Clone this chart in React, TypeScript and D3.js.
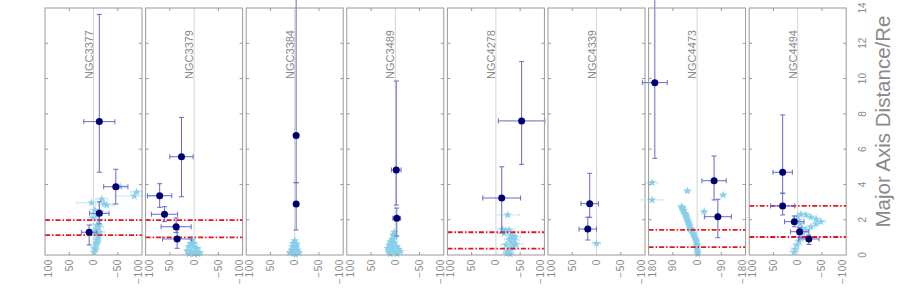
import React from 'react';
import * as d3 from 'd3';

const galaxies = ["NGC3377", "NGC3379", "NGC3384", "NGC3489", "NGC4278", "NGC4339", "NGC4473", "NGC4494"];
const xLimits = [100, 100, 100, 100, 100, 100, 180, 100];
const xTickSteps = [50, 50, 50, 50, 50, 50, 90, 50];
const yTicks = [0, 2, 4, 6, 8, 10, 12, 14];
const yTitle = "Major Axis Distance/Re";

// effective radius lines per panel
const reLines = [[1.98, 1.13], [1.98, 1.0], [], [], [1.29, 0.36], [], [1.42, 0.45], [2.78, 1.02]];

// dots: [x, y, xerr, yerrLow, yerrHigh]
const dots3377 = [[-12, 7.56, 32, 2.87, 6.08], [-46, 3.87, 25, 0.98, 0.99], [-12, 2.36, 20, 0.6, 0.66], [9, 1.29, 16, 0.72, 0.41]];
const dots3379 = [[26, 5.57, 24, 2.27, 2.23], [71, 3.36, 25, 0.66, 0.68], [61, 2.31, 27, 0.42, 0.43], [37, 1.6, 31, 0.33, 0.5], [35, 0.91, 30, 0.53, 0.51]];
const dots3384 = [[-3, 6.78, 0, 2.68, 9.5], [-3, 2.89, 0, 1.47, 1.21]];
const dots3489 = [[-2, 4.82, 10, 1.99, 5.04], [-3, 2.08, 8, 1.0, 0.58]];
const dots4278 = [[-53, 7.6, 48, 2.46, 3.36], [-12, 3.23, 39, 1.98, 1.77]];
const dots4339 = [[14, 2.91, 18, 0.77, 1.72], [18, 1.47, 18, 0.62, 0.67]];
const dots4473 = [[157, 9.77, 46, 4.29, 6.5], [-63, 4.21, 45, 1.09, 1.4], [-77, 2.17, 50, 1.19, 0.99]];
const dots4494 = [[31, 4.69, 20, 1.19, 3.25], [31, 2.78, 25, 0.51, 0.72], [7, 1.89, 20, 0.29, 0.32], [-4, 1.32, 19, 0.32, 0.25], [-23, 0.91, 21, 0.31, 0.22]];

// stars: [x, y, xerr]
const stars3377 = [[-1, 0.17, 6], [-4, 0.3, 6], [-3, 0.4, 8], [-5, 0.62, 6], [-8, 0.7, 6], [-7, 0.85, 8], [-9, 0.96, 6], [-9, 1.13, 10], [-2, 1.25, 8], [-13, 1.3, 10], [-5, 1.42, 8], [-11, 1.59, 10], [-7, 1.7, 12], [-11, 1.98, 14], [1, 2.1, 10], [-7, 2.27, 12], [-13, 2.44, 14], [-3, 2.55, 10], [-27, 2.83, 16], [-22, 2.89, 18], [4, 2.96, 30], [-17, 3.17, 12], [-84, 3.34, 40], [-89, 3.57, 12], [-55, 3.87, 12]];
const stars3379 = [[3.8, 0.85, 6], [7, 0.66, 6], [0.3, 0.66, 6], [10.7, 0.47, 6], [1.7, 0.43, 6], [-6.5, 0.38, 6], [14, 0.25, 6], [5.8, 0.19, 6], [-3, 0.19, 6], [-12, 0.13, 6], [10.7, 0.06, 6], [0.3, 0.06, 6], [-8, 0.06, 6]];
const stars3384 = [[0, 0.81, 4], [3.4, 0.66, 4], [-4.8, 0.62, 4], [4.8, 0.47, 4], [-3.4, 0.43, 4], [6.9, 0.28, 4], [-6.9, 0.28, 4], [0, 0.25, 4], [10.3, 0.13, 4], [2, 0.09, 4], [-9, 0.13, 4], [-2, 0.02, 4]];
const stars3489 = [[2, 1.29, 5], [4.8, 1.13, 5], [0, 1.0, 5], [6.9, 0.89, 5], [10.3, 0.74, 5], [2, 0.7, 5], [12.4, 0.57, 5], [4.8, 0.51, 5], [-3.4, 0.47, 5], [15.8, 0.38, 5], [6.9, 0.32, 5], [-6.9, 0.32, 5], [13.7, 0.17, 5], [2, 0.19, 5], [-10.3, 0.19, 5], [10.3, 0.06, 5], [-3.4, 0.06, 5]];
const stars4278 = [[-24, 2.27, 25], [-13.7, 1.46, 10], [-20.6, 1.38, 10], [-27.5, 1.42, 10], [-17, 1.23, 12], [-31, 1.13, 10], [-39, 1.04, 12], [-34, 1.0, 10], [-27.5, 0.89, 10], [-38, 0.85, 10], [-32, 0.7, 10], [-41, 0.62, 15], [-20.6, 0.57, 10], [-36, 0.47, 10], [-31, 0.38, 10], [-27.5, 0.28, 10], [-24, 0.19, 8], [-22.7, 0.09, 8], [-29.6, 0.06, 8]];
const stars4339 = [[0, 0.66, 8]];
const stars4473 = [[167, 4.1, 20], [167, 3.12, 40], [36, 3.63, 10], [-96.5, 3.4, 10], [-26, 2.46, 10], [58, 2.74, 10], [56, 2.7, 10], [54, 2.65, 10], [52, 2.55, 10], [50, 2.5, 10], [46, 2.36, 10], [44, 2.32, 10], [42, 2.27, 10], [40, 2.17, 10], [38, 2.08, 10], [36, 1.98, 10], [34, 1.9, 10], [31, 1.8, 10], [29, 1.7, 10], [27, 1.6, 10], [25, 1.5, 10], [23, 1.46, 10], [21, 1.42, 10], [18, 1.33, 10], [15, 1.23, 10], [12, 1.12, 10], [8.7, 1.0, 8], [5, 0.89, 8], [3.5, 0.8, 8], [2.5, 0.76, 8], [1.2, 0.62, 8], [0.5, 0.55, 8], [0, 0.47, 6], [-0.5, 0.36, 6], [-1.2, 0.25, 6], [-2, 0.15, 6], [-2.5, 0.06, 6]];
const stars4494 = [[0, 2.17, 8], [-6.8, 2.32, 8], [-17, 2.27, 8], [-27, 2.15, 8], [-38, 2.04, 8], [-48, 1.89, 10], [-38, 1.76, 8], [-27, 1.59, 8], [-17, 1.42, 8], [-11, 1.25, 8], [-7, 1.02, 8], [-3, 0.79, 8], [1.4, 0.57, 8], [5.6, 0.34, 8], [7.6, 0.17, 8], [-0.6, 1.98, 8], [-4.7, 1.76, 8], [-9, 1.53, 8]];

const dotsByPanel = [dots3377, dots3379, dots3384, dots3489, dots4278, dots4339, dots4473, dots4494];
const starsByPanel = [stars3377, stars3379, stars3384, stars3489, stars4278, stars4339, stars4473, stars4494];

const W = 899, H = 300;
const plotTop = 8, plotBottom = 255;
const panelX0 = 45, panelStep = 100.6, panelW = 97;
const FONT = "'Liberation Sans', Arial, sans-serif";
const GREY = "#8a8a8a";

const fmt = (v: number) => (v < 0 ? "\u2212" + Math.abs(v) : String(v));

export default function App() {
  const y = d3.scaleLinear().domain([0, 14]).range([plotBottom, plotTop]);
  const starPath = d3.symbol(d3.symbolStar, 22)() as string;
  const cap = 2.5;

  return (
    <svg width={W} height={H} style={{ position: 'absolute', left: 0, top: 0, display: 'block', background: '#fff' }}>
      {galaxies.map((name, i) => {
        const lim = xLimits[i];
        const x0 = panelX0 + i * panelStep;
        const x = d3.scaleLinear().domain([lim, -lim]).range([x0, x0 + panelW]);
        const xt = d3.range(lim, -lim - 1, -xTickSteps[i]);
        return (
          <g key={name}>
            <line x1={x(0)} x2={x(0)} y1={plotTop} y2={plotBottom} stroke="#d4d4d4" strokeWidth={1} />
            {yTicks.slice(1, -1).map(t => (
              <g key={'yt' + t}>
                <line x1={x0} x2={x0 + 3} y1={y(t)} y2={y(t)} stroke="#999" />
                <line x1={x0 + panelW - 3} x2={x0 + panelW} y1={y(t)} y2={y(t)} stroke="#999" />
              </g>
            ))}
            {xt.filter(t => t !== lim && t !== -lim && t !== 0).map(t => (
              <g key={'xt' + t}>
                <line x1={x(t)} x2={x(t)} y1={plotTop} y2={plotTop + 3} stroke="#999" />
                <line x1={x(t)} x2={x(t)} y1={plotBottom - 3} y2={plotBottom} stroke="#999" />
              </g>
            ))}
            {xt.map((t, k) => {
              const off = k === 0 ? 3.5 : k === xt.length - 1 ? -3.5 : 0;
              return (
                <text key={'xl' + t} transform={`translate(${x(t) + off},${plotBottom + 4}) rotate(-90)`}
                  dy="0.35em" textAnchor="end" fontFamily={FONT} fontSize={10} fill={GREY} letterSpacing="0.6">
                  {fmt(t)}
                </text>
              );
            })}
            {starsByPanel[i].map((s, k) => (
              <g key={'s' + k}>
                <line x1={x(s[0] - s[2])} x2={x(s[0] + s[2])} y1={y(s[1])} y2={y(s[1])} stroke="#c4e6f6" strokeWidth={1} />
                <line x1={x(s[0] - s[2])} x2={x(s[0] - s[2])} y1={y(s[1]) - 1.5} y2={y(s[1]) + 1.5} stroke="#c4e6f6" />
                <line x1={x(s[0] + s[2])} x2={x(s[0] + s[2])} y1={y(s[1]) - 1.5} y2={y(s[1]) + 1.5} stroke="#c4e6f6" />
              </g>
            ))}
            {starsByPanel[i].map((s, k) => (
              <path key={'sp' + k} d={starPath} transform={`translate(${x(s[0])},${y(s[1])})`} fill="#87ceeb" />
            ))}
            {reLines[i].map((r, k) => (
              <line key={'re' + k} x1={x0} x2={x0 + panelW} y1={y(r)} y2={y(r)} stroke="#e8141c" strokeWidth={1.8} strokeDasharray="5,2,1.5,2" />
            ))}
            {dotsByPanel[i].map((d, k) => {
              const cx = x(d[0]), cy = y(d[1]);
              const xl = x(d[0] + d[2]), xr = x(d[0] - d[2]);
              const yb = y(d[1] - d[3]), yt = y(d[1] + d[4]);
              const c = "#6a6abf";
              return (
                <g key={'d' + k}>
                  {d[2] > 0 && (
                    <>
                      <line x1={xl} x2={xr} y1={cy} y2={cy} stroke={c} strokeWidth={1} />
                      <line x1={xl} x2={xl} y1={cy - cap} y2={cy + cap} stroke={c} />
                      <line x1={xr} x2={xr} y1={cy - cap} y2={cy + cap} stroke={c} />
                    </>
                  )}
                  <line x1={cx} x2={cx} y1={yt} y2={yb} stroke={c} strokeWidth={1} />
                  <line x1={cx - cap} x2={cx + cap} y1={yt} y2={yt} stroke={c} />
                  <line x1={cx - cap} x2={cx + cap} y1={yb} y2={yb} stroke={c} />
                </g>
              );
            })}
            {dotsByPanel[i].map((d, k) => (
              <circle key={'c' + k} cx={x(d[0])} cy={y(d[1])} r={3.5} fill="#000072" />
            ))}
            <rect x={x0} y={plotTop} width={panelW} height={plotBottom - plotTop} fill="none" stroke="#999" strokeWidth={1} />
            <text transform={`translate(${x(0) - 1},${30}) rotate(-90)`} textAnchor="end" fontFamily={FONT} fontSize={11} fill={GREY}>
              {name}
            </text>
          </g>
        );
      })}
      {yTicks.map(t => (
        <text key={'yl' + t} transform={`translate(${862},${Math.max(y(t), 6)}) rotate(-90)`} dy="0.35em" textAnchor="middle"
          fontFamily={FONT} fontSize={10} fill={GREY}>
          {t}
        </text>
      ))}
      <text transform={`translate(${890},${121.5}) rotate(-90)`} textAnchor="middle" fontFamily={FONT} fontSize={20.5} fill={GREY}>
        {yTitle}
      </text>
    </svg>
  );
}
